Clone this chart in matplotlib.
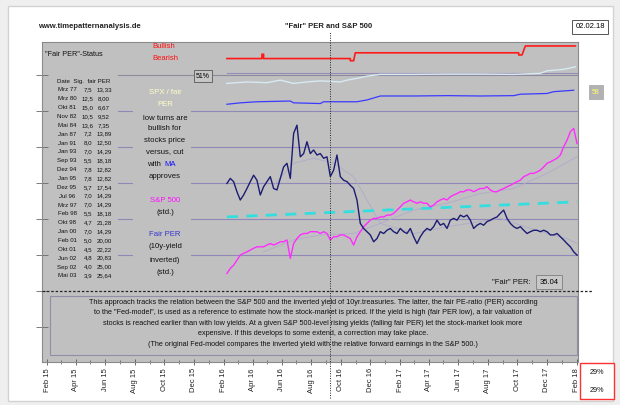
import numpy as np
import pandas as pd
import matplotlib
matplotlib.use('Agg')
import matplotlib.pyplot as plt
import matplotlib.dates as mdates
from matplotlib.patches import Rectangle
from matplotlib.transforms import Affine2D

plt.rcParams['font.family'] = ['Liberation Sans', 'DejaVu Sans']

# ------------------------------------------------------------------ data
start_date = '2016-02-08'
end_date = '2018-02-02'

# Fair PER (10y-yield inverted, std.) - weekly
fair_per = [1.99, 2.13, 2.04, 1.76, 1.53, 1.67, 1.85, 2.04, 2.22, 2.08,
            1.67, 1.90, 2.04, 2.18, 1.85, 1.81, 2.13, 2.45, 2.55, 2.13,
            3.38, 3.61, 2.73, 2.82, 3.15, 2.82, 2.92, 2.78, 2.82, 2.69,
            2.73, 2.18, 2.36, 2.78, 2.18, 2.08, 2.04, 1.94, 1.85, 1.53,
            0.88, 0.74, 0.65, 0.56, 0.37, 0.46, 0.65, 0.60, 0.69, 0.74,
            0.65, 0.60, 0.74, 0.65, 0.60, 0.74, 0.51, 0.32, 0.51, 0.65,
            0.74, 0.69, 0.79, 0.97, 0.83, 0.88, 0.74, 0.97, 1.02, 0.97,
            1.11, 1.06, 1.11, 0.97, 0.74, 0.83, 0.88, 0.83, 0.93, 0.97,
            1.02, 1.06, 1.16, 1.25, 1.02, 0.88, 0.79, 0.74, 0.79, 0.69,
            0.60, 0.65, 0.69, 0.69, 0.65, 0.69, 0.65, 0.56, 0.56, 0.60,
            0.51, 0.42, 0.32, 0.23, 0.09, 0.00]

# S&P 500 (std.) - weekly
sp500 = [-0.51, -0.37, -0.28, -0.14, 0.00, 0.05, 0.09, 0.14, 0.19, 0.23,
         0.23, 0.23, 0.28, 0.32, 0.28, 0.32, 0.37, 0.37, 0.42, -0.09,
         0.32, 0.46, 0.56, 0.60, 0.60, 0.65, 0.65, 0.65, 0.60, 0.65,
         0.60, 0.42, 0.51, 0.51, 0.56, 0.56, 0.51, 0.46, 0.28, 0.51,
         0.65, 0.79, 0.88, 0.97, 1.02, 1.02, 1.06, 1.06, 1.11, 1.11,
         1.16, 1.25, 1.34, 1.44, 1.48, 1.53, 1.48, 1.44, 1.48, 1.44,
         1.44, 1.34, 1.39, 1.48, 1.53, 1.57, 1.53, 1.62, 1.67, 1.71,
         1.76, 1.76, 1.81, 1.81, 1.76, 1.81, 1.85, 1.85, 1.90, 1.81,
         1.76, 1.76, 1.81, 1.85, 1.90, 1.94, 1.99, 2.04, 2.08, 2.18,
         2.22, 2.27, 2.27, 2.31, 2.36, 2.45, 2.55, 2.59, 2.64, 2.69,
         2.78, 3.01, 3.19, 3.43, 3.52, 3.10]

# moving averages (week index, value)
fair_per_ma_idx = [14, 20, 26, 32, 38, 42, 46, 56, 66, 76, 82, 88, 96, 102, 105]
fair_per_ma = [1.94, 2.55, 2.69, 2.55, 2.18, 1.53, 0.88, 0.60, 0.79, 0.93,
               1.02, 0.83, 0.60, 0.46, 0.32]
sp500_ma_idx = [11, 20, 28, 38, 46, 56, 66, 76, 86, 96, 105]
sp500_ma = [0.09, 0.42, 0.56, 0.60, 0.88, 1.25, 1.44, 1.71, 1.85, 2.27, 2.73]

# cyan reference (trend) line
trend_idx = [0, 105]
trend_vals = [1.06, 1.48]

# "Fair PER"-status line (red)
status_idx = [0, 10.5, 10.5, 11, 11, 37, 37, 38, 38.5, 87.5, 87.5, 88.5, 89.5, 104.5]
status_vals = [5.46, 5.46, 5.58, 5.58, 5.46, 5.46, 5.40, 5.40, 5.62, 5.62,
               5.56, 5.56, 5.81, 5.81]

# SPX / fair PER (pale) and its MA (blue)
ratio_idx = [0, 6, 12, 16, 20, 24, 28, 34, 36, 39, 42, 46, 56, 66, 76, 86,
             94, 96, 101, 104.5]
ratio_vals = [4.77, 4.81, 4.79, 4.86, 4.77, 4.81, 4.84, 4.81, 4.86, 4.91,
              4.97, 5.02, 5.02, 5.03, 5.03, 5.02, 5.05, 5.12, 5.16, 5.23]
ratio_ma_idx = [0, 4, 9, 19, 20, 28, 29, 39, 42, 46, 56, 66, 76, 86, 88, 96, 98, 104]
ratio_ma_vals = [4.19, 4.23, 4.26, 4.28, 4.23, 4.21, 4.26, 4.26, 4.31, 4.42,
                 4.42, 4.43, 4.42, 4.43, 4.47, 4.49, 4.54, 4.58]
ratio_level = 5.06

cursor_date = '2016-09-08'
fair_per_now = '35.04'
report_date = '02.02.18'
ratio_pct = '51%'
ratio_now = '58'
box_pct = ['29%', '29%']

table_header = ['Date', 'Sig.', 'fair PER']
table_dates = ['Mrz 77', 'Mrz 80', 'Okt 81', 'Nov 82', 'Mai 84', 'Jan 87',
               'Jan 91', 'Jan 93', 'Sep 93', 'Dez 94', 'Jan 95', 'Dez 95',
               'Jul 96', 'Mrz 97', 'Feb 98', 'Okt 98', 'Jan 00', 'Feb 01',
               'Okt 01', 'Jun 02', 'Sep 02', 'Mai 03']
table_yields = ['7,5', '12,5', '15,0', '10,5', '13,6', '7,2', '8,0', '7,0',
                '5,5', '7,8', '7,8', '5,7', '7,0', '7,0', '5,5', '4,7', '7,0',
                '5,0', '4,5', '4,8', '4,0', '3,9']
table_fairper = ['13,33', '8,00', '6,67', '9,52', '7,35', '13,89', '12,50',
                 '14,29', '18,18', '12,82', '12,82', '17,54', '14,29', '14,29',
                 '18,18', '21,28', '14,29', '20,00', '22,22', '20,83', '25,00',
                 '25,64']

explanation = [
    'This approach tracks the relation between the S&P 500 and the inverted yield of 10yr.treasuries. The latter, the fair PE-ratio (PER) according',
    'to the "Fed-model", is used as a reference to estimate how the stock-market is priced. If the yield is high (fair PER low), a fair valuation of',
    'stocks is reached earlier than with low yields. At a given S&P 500-level rising yields (falling fair PER) let the stock-market look more',
    'expensive. If this develops to some extend, a correction may take place.',
    '(The original Fed-model compares the inverted yield with the relative forward earnings in the S&P 500.)',
]

# ------------------------------------------------------------------ figure
W, H = 620, 405
fig = plt.figure(figsize=(W / 100, H / 100), dpi=100, facecolor='#efefef')
T = Affine2D().scale(1 / W, -1 / H).translate(0, 1) + fig.transFigure

fig.patches.append(Rectangle((8, 6), 605, 395, transform=T, facecolor='white',
                             edgecolor='#d2d2d2', lw=1.0, zorder=-5))

ax = fig.add_axes([42 / W, 1 - 362 / H, 536 / W, 320 / H])
ax.set_facecolor('#c0c0c0')
for s in ax.spines.values():
    s.set_color('#8a8a8a')
    s.set_linewidth(0.8)

dates = pd.date_range(start_date, end_date, periods=len(fair_per))
dnum = mdates.date2num(dates)


def to_x(idx):
    idx = np.asarray(idx, dtype=float)
    return dnum[0] + idx * (dnum[-1] - dnum[0]) / (len(dnum) - 1)


ax.set_xlim(mdates.date2num(pd.Timestamp('2015-01-21')),
            mdates.date2num(pd.Timestamp('2018-02-04')))
ax.set_ylim(-2.97, 5.92)

# gridlines
x0frac = (118 - 42) / 536
for v in [0, 1, 2, 3, 4]:
    ax.axhline(v, xmin=x0frac, xmax=1, color='#9088b8', lw=0.8, zorder=1)
ax.axhline(5, xmin=x0frac, xmax=1, color='#8f8b9e', lw=0.8, zorder=1)
ax.plot([dnum[0], dnum[-1]], [ratio_level, ratio_level], color='#958cb8', lw=0.8, zorder=1)

# cover behind the middle text column
ax.add_patch(Rectangle((133, 86), 58, 194, transform=T, facecolor='#c0c0c0',
                       edgecolor='none', zorder=1.5))

# series
ax.plot(to_x(fair_per_ma_idx), fair_per_ma, color='#b0aacb', lw=0.6, zorder=2)
ax.plot(to_x(sp500_ma_idx), sp500_ma, color='#b0aacb', lw=0.6, zorder=2)
ax.plot(to_x(trend_idx), trend_vals, color='#35dede', lw=2.0, dashes=(4, 3), zorder=3)
ax.plot(dnum, sp500, color='#ff2cff', lw=1.0, zorder=4)
ax.plot(dnum, fair_per, color='#1c1c72', lw=1.0, zorder=4)
ax.plot(to_x(status_idx), status_vals, color='#ff1a1a', lw=1.2, zorder=4)
ax.plot(to_x(ratio_idx), ratio_vals, color='#d6eaf2', lw=1.0, zorder=4)
ax.plot(to_x(ratio_ma_idx), ratio_ma_vals, color='#3a3aff', lw=0.9, zorder=4)

# explanation box and red box
ax.add_patch(Rectangle((50, 296), 527, 59, transform=T, facecolor='#c0c0c0',
                       edgecolor='#8e8ea6', lw=0.8, zorder=4.5))
ax.add_patch(Rectangle((580, 363), 34, 36, transform=T, facecolor='white',
                       edgecolor='#ff3030', lw=1.0, zorder=4.5, clip_on=False))

# dashed horizontal and cursor line
ax.axhline(-1, xmin=0, xmax=(593 - 42) / 536, clip_on=False, color='#222222',
           lw=0.9, ls=(0, (2, 1.5)), zorder=5)
ax.axvline(mdates.date2num(pd.Timestamp(cursor_date)), ymin=(362 - 398) / 320,
           ymax=(362 - 32) / 320, clip_on=False, color='#222222', lw=0.7,
           ls=(0, (1, 1.5)), zorder=6)

# ticks
ax.set_yticks([-2, -1, 0, 1, 2, 3, 4, 5])
ax.tick_params(axis='y', direction='inout', length=8, width=0.6, color='#666666',
               labelleft=False)
ax.xaxis.set_major_locator(mdates.MonthLocator(bymonth=[2, 4, 6, 8, 10, 12]))
ax.xaxis.set_minor_locator(mdates.MonthLocator())
ax.xaxis.set_major_formatter(mdates.DateFormatter('%b %y'))
ax.tick_params(axis='x', which='major', direction='inout', length=5, width=0.6,
               color='#555555', labelsize=5.5, rotation=90, pad=2,
               labelcolor='#222222')
ax.tick_params(axis='x', which='minor', direction='inout', length=3, width=0.5,
               color='#555555')

# ------------------------------------------------------------------ texts


def t(x, y, s, **kw):
    kw.setdefault('fontsize', 5.5)
    kw.setdefault('ha', 'center')
    kw.setdefault('va', 'center')
    return fig.text(x, y, s, transform=T, **kw)


t(38, 27, 'www.timepatternanalysis.de', ha='left', fontweight='bold', color='#222222')
t(329, 27, '"Fair" PER and S&P 500', fontweight='bold', color='#222222')
t(590, 27, report_date, bbox=dict(boxstyle='square,pad=0.45', fc='white', ec='#555555', lw=0.7))

t(74, 54, '"Fair PER"-Status', color='#111111', fontsize=5.2)
t(164, 46, 'Bullish', color='#ff1010')
t(165, 59, 'Bearish', color='#ff1010')

t(203, 76, ratio_pct, fontsize=5, bbox=dict(boxstyle='square,pad=0.35', fc='#c6c6c6', ec='#666666', lw=0.7))
t(596, 92, ratio_now, fontsize=5, color='#ffff70',
  bbox=dict(boxstyle='square,pad=0.5', fc='#b2b2b2', ec='#b2b2b2', lw=0.7))

# table
row_h = 8.86
y0 = 81
t(84, y0, '  '.join(table_header), fontsize=4.4, color='#111111')
for k, (d, yv, fp) in enumerate(zip(table_dates, table_yields, table_fairper)):
    yy = y0 + row_h * (k + 1)
    t(67, yy, d, fontsize=4.4, color='#111111')
    t(88, yy, yv, fontsize=4.4, color='#111111')
    t(104, yy, fp, fontsize=4.4, color='#111111')

# middle column
mid = [(93, 'SPX / fair', '#ffffc8'), (104, 'PER', '#ffffc8'),
       (118, 'low turns are', '#111111'), (129, 'bullish for', '#111111'),
       (141, 'stocks price', '#111111'), (152, 'versus, cut', '#111111'),
       (177, 'approves', '#111111'),
       (201, 'S&P 500', '#ff10ff'), (213, '(std.)', '#111111'),
       (235, 'Fair PER', '#3636d0'), (247, '(10y-yield', '#111111'),
       (260, 'inverted)', '#111111'), (272, '(std.)', '#111111')]
for yy, s, c in mid:
    t(165, yy, s, color=c, fontsize=5.6)
t(161, 164, 'with', color='#111111', fontsize=5.6, ha='right')
t(164, 164, 'MA', color='#1010ff', fontsize=5.6, ha='left')

# fair PER value
t(531, 282, '"Fair" PER:', ha='right', color='#111111')
t(549, 282, fair_per_now, bbox=dict(boxstyle='square,pad=0.4', fc='#c8c8c8', ec='#888888', lw=0.7))

# explanation text
for k, line in enumerate(explanation):
    t(313, 302 + 10.6 * k, line, fontsize=5.2, color='#111111')

t(597, 373, box_pct[0], fontsize=5.2, color='#111111')
t(597, 391, box_pct[1], fontsize=5.2, color='#111111')

fig.savefig('out.png', dpi=100, facecolor=fig.get_facecolor())
